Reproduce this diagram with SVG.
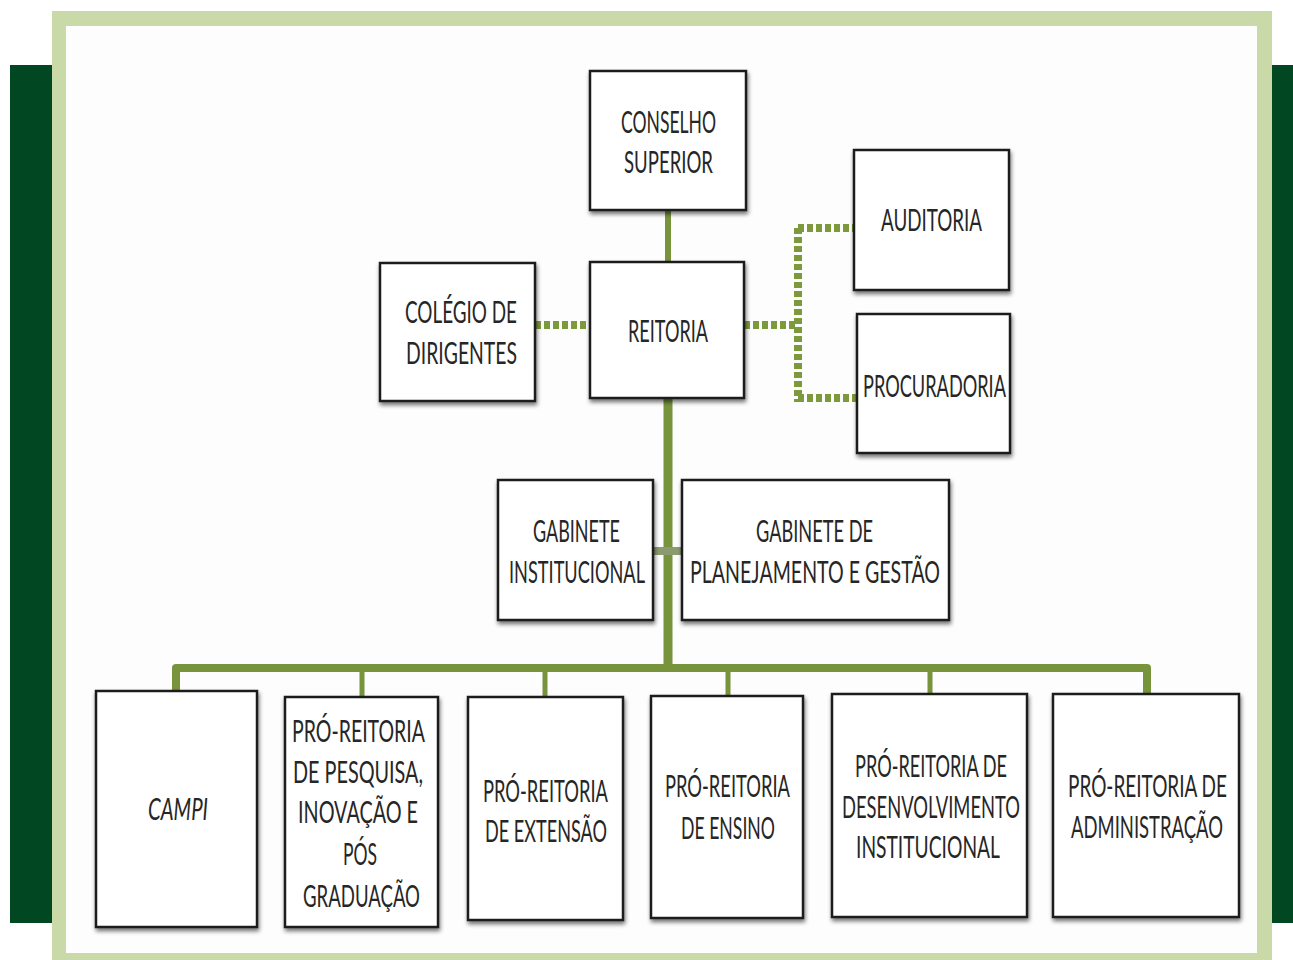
<svg xmlns="http://www.w3.org/2000/svg" width="1293" height="960" viewBox="0 0 1293 960">
  <defs>
    <filter id="sh" x="-10%" y="-10%" width="130%" height="130%">
      <feGaussianBlur in="SourceAlpha" stdDeviation="2"/>
      <feOffset dx="1" dy="3" result="b"/>
      <feComponentTransfer><feFuncA type="linear" slope="0.55"/></feComponentTransfer>
      <feMerge><feMergeNode/><feMergeNode in="SourceGraphic"/></feMerge>
    </filter>
  </defs>
  <style>
    .box { fill: #ffffff; stroke: #1e1e1e; stroke-width: 2.5; filter: url(#sh); }
    .t { font-family: Lato, "Open Sans", "Liberation Sans", sans-serif; font-size: 23.5px; fill: #262626; }
    .it { font-style: italic; }
    .solid { fill: none; stroke: #77933c; stroke-linecap: butt; stroke-linejoin: round; }
    .dash { fill: none; stroke: #7c9a3b; stroke-width: 8; stroke-dasharray: 6 3; }
    .gab { fill: none; stroke: #8c9a70; stroke-width: 8; }
  </style>

  <!-- background frame -->
  <rect x="0" y="0" width="1293" height="960" fill="#ffffff"/>
  <rect x="10" y="65" width="50" height="858" fill="#014822"/>
  <rect x="1262" y="65" width="31" height="858" fill="#014822"/>
  <rect x="52" y="11" width="1220" height="949" fill="#c9daa8"/>
  <rect x="66" y="26" width="1191" height="927" fill="#fdfdfd"/>

  <!-- connectors -->
  <g id="connectors">
    <path class="solid" stroke-width="6" d="M668 210 V262"/>
    <path class="solid" stroke-width="9" d="M668 398 V668"/>
    <path class="gab" d="M653 551 H682"/>
    <path class="solid" stroke-width="8" d="M176 691 V668 H1147 V694"/>
    <path class="solid" stroke-width="5" d="M362 668 V697 M545 668 V697 M728 668 V696 M930 668 V694"/>
    <path class="dash" d="M535 325 H590"/>
    <path class="dash" d="M744 325 H798"/>
    <path class="dash" d="M798 228 V402"/>
    <path class="dash" d="M798 228 H854"/>
    <path class="dash" d="M798 398 H857"/>
  </g>

  <g id="conselho">
    <rect class="box" x="590" y="71" width="156" height="139"/>
    <text class="t" transform="translate(621 133) scale(1 1.28)" textLength="95" lengthAdjust="spacingAndGlyphs">CONSELHO</text>
    <text class="t" transform="translate(624 173) scale(1 1.28)" textLength="89" lengthAdjust="spacingAndGlyphs">SUPERIOR</text>
  </g>
  <g id="auditoria">
    <rect class="box" x="854" y="150" width="155" height="140"/>
    <text class="t" transform="translate(881 231) scale(1 1.28)" textLength="101" lengthAdjust="spacingAndGlyphs">AUDITORIA</text>
  </g>
  <g id="procuradoria">
    <rect class="box" x="857" y="314" width="153" height="139"/>
    <text class="t" transform="translate(863 397) scale(1 1.28)" textLength="143" lengthAdjust="spacingAndGlyphs">PROCURADORIA</text>
  </g>
  <g id="colegio">
    <rect class="box" x="380" y="263" width="155" height="138"/>
    <text class="t" transform="translate(405 323) scale(1 1.28)" textLength="112" lengthAdjust="spacingAndGlyphs">COLÉGIO DE</text>
    <text class="t" transform="translate(406 364) scale(1 1.28)" textLength="111" lengthAdjust="spacingAndGlyphs">DIRIGENTES</text>
  </g>
  <g id="reitoria">
    <rect class="box" x="590" y="262" width="154" height="136"/>
    <text class="t" transform="translate(628 342) scale(1 1.28)" textLength="80" lengthAdjust="spacingAndGlyphs">REITORIA</text>
  </g>
  <g id="gabinete-institucional">
    <rect class="box" x="498" y="480" width="155" height="140"/>
    <text class="t" transform="translate(533 542) scale(1 1.28)" textLength="87" lengthAdjust="spacingAndGlyphs">GABINETE</text>
    <text class="t" transform="translate(509 583) scale(1 1.28)" textLength="136" lengthAdjust="spacingAndGlyphs">INSTITUCIONAL</text>
  </g>
  <g id="gabinete-planejamento">
    <rect class="box" x="682" y="480" width="267" height="140"/>
    <text class="t" transform="translate(756 542) scale(1 1.28)" textLength="117" lengthAdjust="spacingAndGlyphs">GABINETE DE</text>
    <text class="t" transform="translate(690 583) scale(1 1.28)" textLength="250" lengthAdjust="spacingAndGlyphs">PLANEJAMENTO E GESTÃO</text>
  </g>

  <g id="campi">
    <rect class="box" x="96" y="691" width="161" height="236"/>
    <text class="t it" transform="translate(148 820) scale(1 1.28)" textLength="60" lengthAdjust="spacingAndGlyphs">CAMPI</text>
  </g>
  <g id="pro-pesquisa">
    <rect class="box" x="285" y="697" width="153" height="230"/>
    <text class="t" transform="translate(292 742) scale(1 1.28)" textLength="133" lengthAdjust="spacingAndGlyphs">PRÓ-REITORIA</text>
    <text class="t" transform="translate(293 783) scale(1 1.28)" textLength="130" lengthAdjust="spacingAndGlyphs">DE PESQUISA,</text>
    <text class="t" transform="translate(298 823) scale(1 1.28)" textLength="120" lengthAdjust="spacingAndGlyphs">INOVAÇÃO E</text>
    <text class="t" transform="translate(343 865) scale(1 1.28)" textLength="34" lengthAdjust="spacingAndGlyphs">PÓS</text>
    <text class="t" transform="translate(303 907) scale(1 1.28)" textLength="117" lengthAdjust="spacingAndGlyphs">GRADUAÇÃO</text>
  </g>
  <g id="pro-extensao">
    <rect class="box" x="468" y="697" width="155" height="223"/>
    <text class="t" transform="translate(483 802) scale(1 1.28)" textLength="125" lengthAdjust="spacingAndGlyphs">PRÓ-REITORIA</text>
    <text class="t" transform="translate(485 842) scale(1 1.28)" textLength="122" lengthAdjust="spacingAndGlyphs">DE EXTENSÃO</text>
  </g>
  <g id="pro-ensino">
    <rect class="box" x="651" y="696" width="152" height="222"/>
    <text class="t" transform="translate(665 797) scale(1 1.28)" textLength="125" lengthAdjust="spacingAndGlyphs">PRÓ-REITORIA</text>
    <text class="t" transform="translate(681 839) scale(1 1.28)" textLength="94" lengthAdjust="spacingAndGlyphs">DE ENSINO</text>
  </g>
  <g id="pro-desenvolvimento">
    <rect class="box" x="832" y="694" width="195" height="223"/>
    <text class="t" transform="translate(855 777) scale(1 1.28)" textLength="152" lengthAdjust="spacingAndGlyphs">PRÓ-REITORIA DE</text>
    <text class="t" transform="translate(842 818) scale(1 1.28)" textLength="178" lengthAdjust="spacingAndGlyphs">DESENVOLVIMENTO</text>
    <text class="t" transform="translate(856 858) scale(1 1.28)" textLength="144" lengthAdjust="spacingAndGlyphs">INSTITUCIONAL</text>
  </g>
  <g id="pro-administracao">
    <rect class="box" x="1053" y="694" width="186" height="223"/>
    <text class="t" transform="translate(1068 797) scale(1 1.28)" textLength="159" lengthAdjust="spacingAndGlyphs">PRÓ-REITORIA  DE</text>
    <text class="t" transform="translate(1071 838) scale(1 1.28)" textLength="152" lengthAdjust="spacingAndGlyphs">ADMINISTRAÇÃO</text>
  </g>
</svg>
